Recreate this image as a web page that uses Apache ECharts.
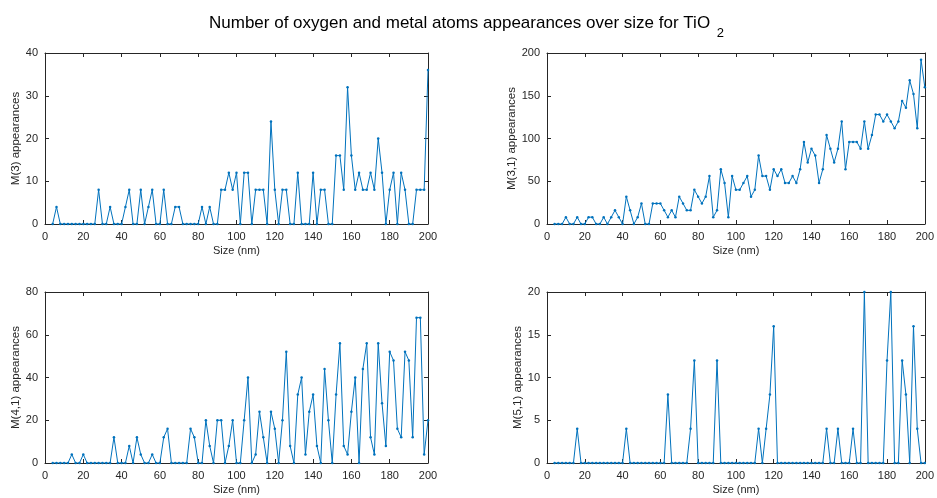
<!DOCTYPE html>
<html>
<head>
<meta charset="utf-8">
<script src="https://cdn.jsdelivr.net/npm/echarts@6/dist/echarts.min.js"></script>
<style>
    html, body { margin: 0; padding: 0; background: #fff; }
    #main { width: 937px; height: 498px; }
</style>
</head>
<body>
<div id="main"></div>
<script>
    // sizes (nm)
    var sizes = [4, 6, 8, 10, 12, 14, 16, 18, 20, 22,
        24, 26, 28, 30, 32, 34, 36, 38, 40, 42,
        44, 46, 48, 50, 52, 54, 56, 58, 60, 62,
        64, 66, 68, 70, 72, 74, 76, 78, 80, 82,
        84, 86, 88, 90, 92, 94, 96, 98, 100, 102,
        104, 106, 108, 110, 112, 114, 116, 118, 120, 122,
        124, 126, 128, 130, 132, 134, 136, 138, 140, 142,
        144, 146, 148, 150, 152, 154, 156, 158, 160, 162,
        164, 166, 168, 170, 172, 174, 176, 178, 180, 182,
        184, 186, 188, 190, 192, 194, 196, 198, 200];

    var m3 = [0, 4, 0, 0, 0, 0, 0, 0, 0, 0,
        0, 0, 8, 0, 0, 4, 0, 0, 0, 4,
        8, 0, 0, 8, 0, 4, 8, 0, 0, 8,
        0, 0, 4, 4, 0, 0, 0, 0, 0, 4,
        0, 4, 0, 0, 8, 8, 12, 8, 12, 0,
        12, 12, 0, 8, 8, 8, 0, 24, 8, 0,
        8, 8, 0, 0, 12, 0, 0, 0, 12, 0,
        8, 8, 0, 0, 16, 16, 8, 32, 16, 8,
        12, 8, 8, 12, 8, 20, 12, 0, 8, 12,
        0, 12, 8, 0, 0, 8, 8, 8, 36];

    var m31 = [0, 0, 0, 8, 0, 0, 8, 0, 0, 8,
        8, 0, 0, 8, 0, 8, 16, 8, 0, 32,
        16, 0, 8, 24, 0, 0, 24, 24, 24, 16,
        8, 16, 8, 32, 24, 16, 16, 40, 32, 24,
        32, 56, 8, 16, 64, 48, 8, 56, 40, 40,
        48, 56, 32, 40, 80, 56, 56, 40, 64, 56,
        64, 48, 48, 56, 48, 64, 96, 72, 88, 80,
        48, 64, 104, 88, 72, 88, 120, 64, 96, 96,
        96, 88, 120, 88, 104, 128, 128, 120, 128, 120,
        112, 120, 144, 136, 168, 152, 112, 192, 160];

    var m41 = [0, 0, 0, 0, 0, 4, 0, 0, 4, 0,
        0, 0, 0, 0, 0, 0, 12, 0, 0, 0,
        8, 0, 12, 4, 0, 0, 4, 0, 0, 12,
        16, 0, 0, 0, 0, 0, 16, 12, 0, 0,
        20, 8, 0, 20, 20, 0, 8, 20, 0, 0,
        20, 40, 0, 4, 24, 12, 0, 24, 16, 0,
        20, 52, 8, 0, 32, 40, 4, 24, 32, 8,
        0, 44, 20, 0, 32, 56, 8, 4, 24, 40,
        0, 44, 56, 12, 4, 56, 28, 8, 52, 48,
        16, 12, 52, 48, 12, 68, 68, 4, 20];

    var m51 = [0, 0, 0, 0, 0, 0, 4, 0, 0, 0,
        0, 0, 0, 0, 0, 0, 0, 0, 0, 4,
        0, 0, 0, 0, 0, 0, 0, 0, 0, 0,
        8, 0, 0, 0, 0, 0, 4, 12, 0, 0,
        0, 0, 0, 12, 0, 0, 0, 0, 0, 0,
        0, 0, 0, 0, 4, 0, 4, 8, 16, 0,
        0, 0, 0, 0, 0, 0, 0, 0, 0, 0,
        0, 0, 4, 0, 0, 4, 0, 0, 0, 4,
        0, 0, 20, 0, 0, 0, 0, 0, 12, 20,
        0, 0, 12, 8, 0, 16, 4, 0, 0];

    var xTicks = {min: 0, max: 200, interval: 20};
    var panels = [
        {name: 'M(3) appearances', data: m3, max: 40, interval: 10, gap: 22},
        {name: 'M(3,1) appearances', data: m31, max: 200, interval: 50, gap: 28},
        {name: 'M(4,1) appearances', data: m41, max: 80, interval: 20, gap: 22},
        {name: 'M(5,1) appearances', data: m51, max: 20, interval: 5, gap: 20}
    ];

    var ink = '#262626';
    var font = 'Liberation Sans, Arial, Helvetica, sans-serif';
    var grids = [
        {left: 45, top: 53, width: 383, height: 171},
        {left: 547, top: 53, width: 383, height: 171},
        {left: 45, top: 292, width: 383, height: 171},
        {left: 547, top: 292, width: 383, height: 171}
    ];

    function axisBase(showLabel) {
        return {
            axisLine: {show: true, onZero: false, lineStyle: {color: ink, width: 1}},
            axisTick: {show: true, inside: true, length: 4, lineStyle: {color: ink}},
            axisLabel: {show: showLabel, color: ink, fontSize: 11, fontFamily: font, margin: 7},
            splitLine: {show: false}
        };
    }

    var xAxes = [], yAxes = [], series = [];
    panels.forEach(function (p, i) {
        xAxes.push(Object.assign(axisBase(true), {
            type: 'value', gridIndex: i, position: 'bottom',
            min: xTicks.min, max: xTicks.max, interval: xTicks.interval,
            name: 'Size (nm)', nameLocation: 'middle', nameGap: 21,
            nameTextStyle: {color: ink, fontSize: 11, fontFamily: font}
        }));
        xAxes.push(Object.assign(axisBase(false), {
            type: 'value', gridIndex: i, position: 'top',
            min: xTicks.min, max: xTicks.max, interval: xTicks.interval
        }));
        yAxes.push(Object.assign(axisBase(true), {
            type: 'value', gridIndex: i, position: 'left',
            min: 0, max: p.max, interval: p.interval,
            name: p.name, nameLocation: 'middle', nameGap: p.gap,
            nameTextStyle: {color: ink, fontSize: 11.5, fontFamily: font}
        }));
        yAxes.push(Object.assign(axisBase(false), {
            type: 'value', gridIndex: i, position: 'right',
            min: 0, max: p.max, interval: p.interval
        }));
        series.push({
            type: 'line',
            xAxisIndex: i * 2,
            yAxisIndex: i * 2,
            data: sizes.map(function (s, k) { return [s, p.data[k]]; }),
            symbol: 'circle',
            symbolSize: 2.5,
            showSymbol: true,
            lineStyle: {color: '#0072BD', width: 1},
            itemStyle: {color: '#0072BD'},
            clip: true
        });
    });

    var myChart = echarts.init(document.getElementById('main'));
    var option = {
        animation: false,
        backgroundColor: '#fff',
        title: {
            text: '{t|Number of oxygen and metal atoms appearances over size for TiO }{s|2}',
            left: 204,
            top: 10,
            textStyle: {
                fontWeight: 'normal',
                rich: {
                    t: {fontSize: 17, fontWeight: 'normal', fontFamily: font, color: '#000', lineHeight: 21, verticalAlign: 'top'},
                    s: {fontSize: 13, fontWeight: 'normal', fontFamily: font, color: '#000', lineHeight: 21, verticalAlign: 'top', padding: [12, 0, 0, 2]}
                }
            }
        },
        grid: grids,
        xAxis: xAxes,
        yAxis: yAxes,
        series: series
    };
    myChart.setOption(option);
</script>
</body>
</html>
